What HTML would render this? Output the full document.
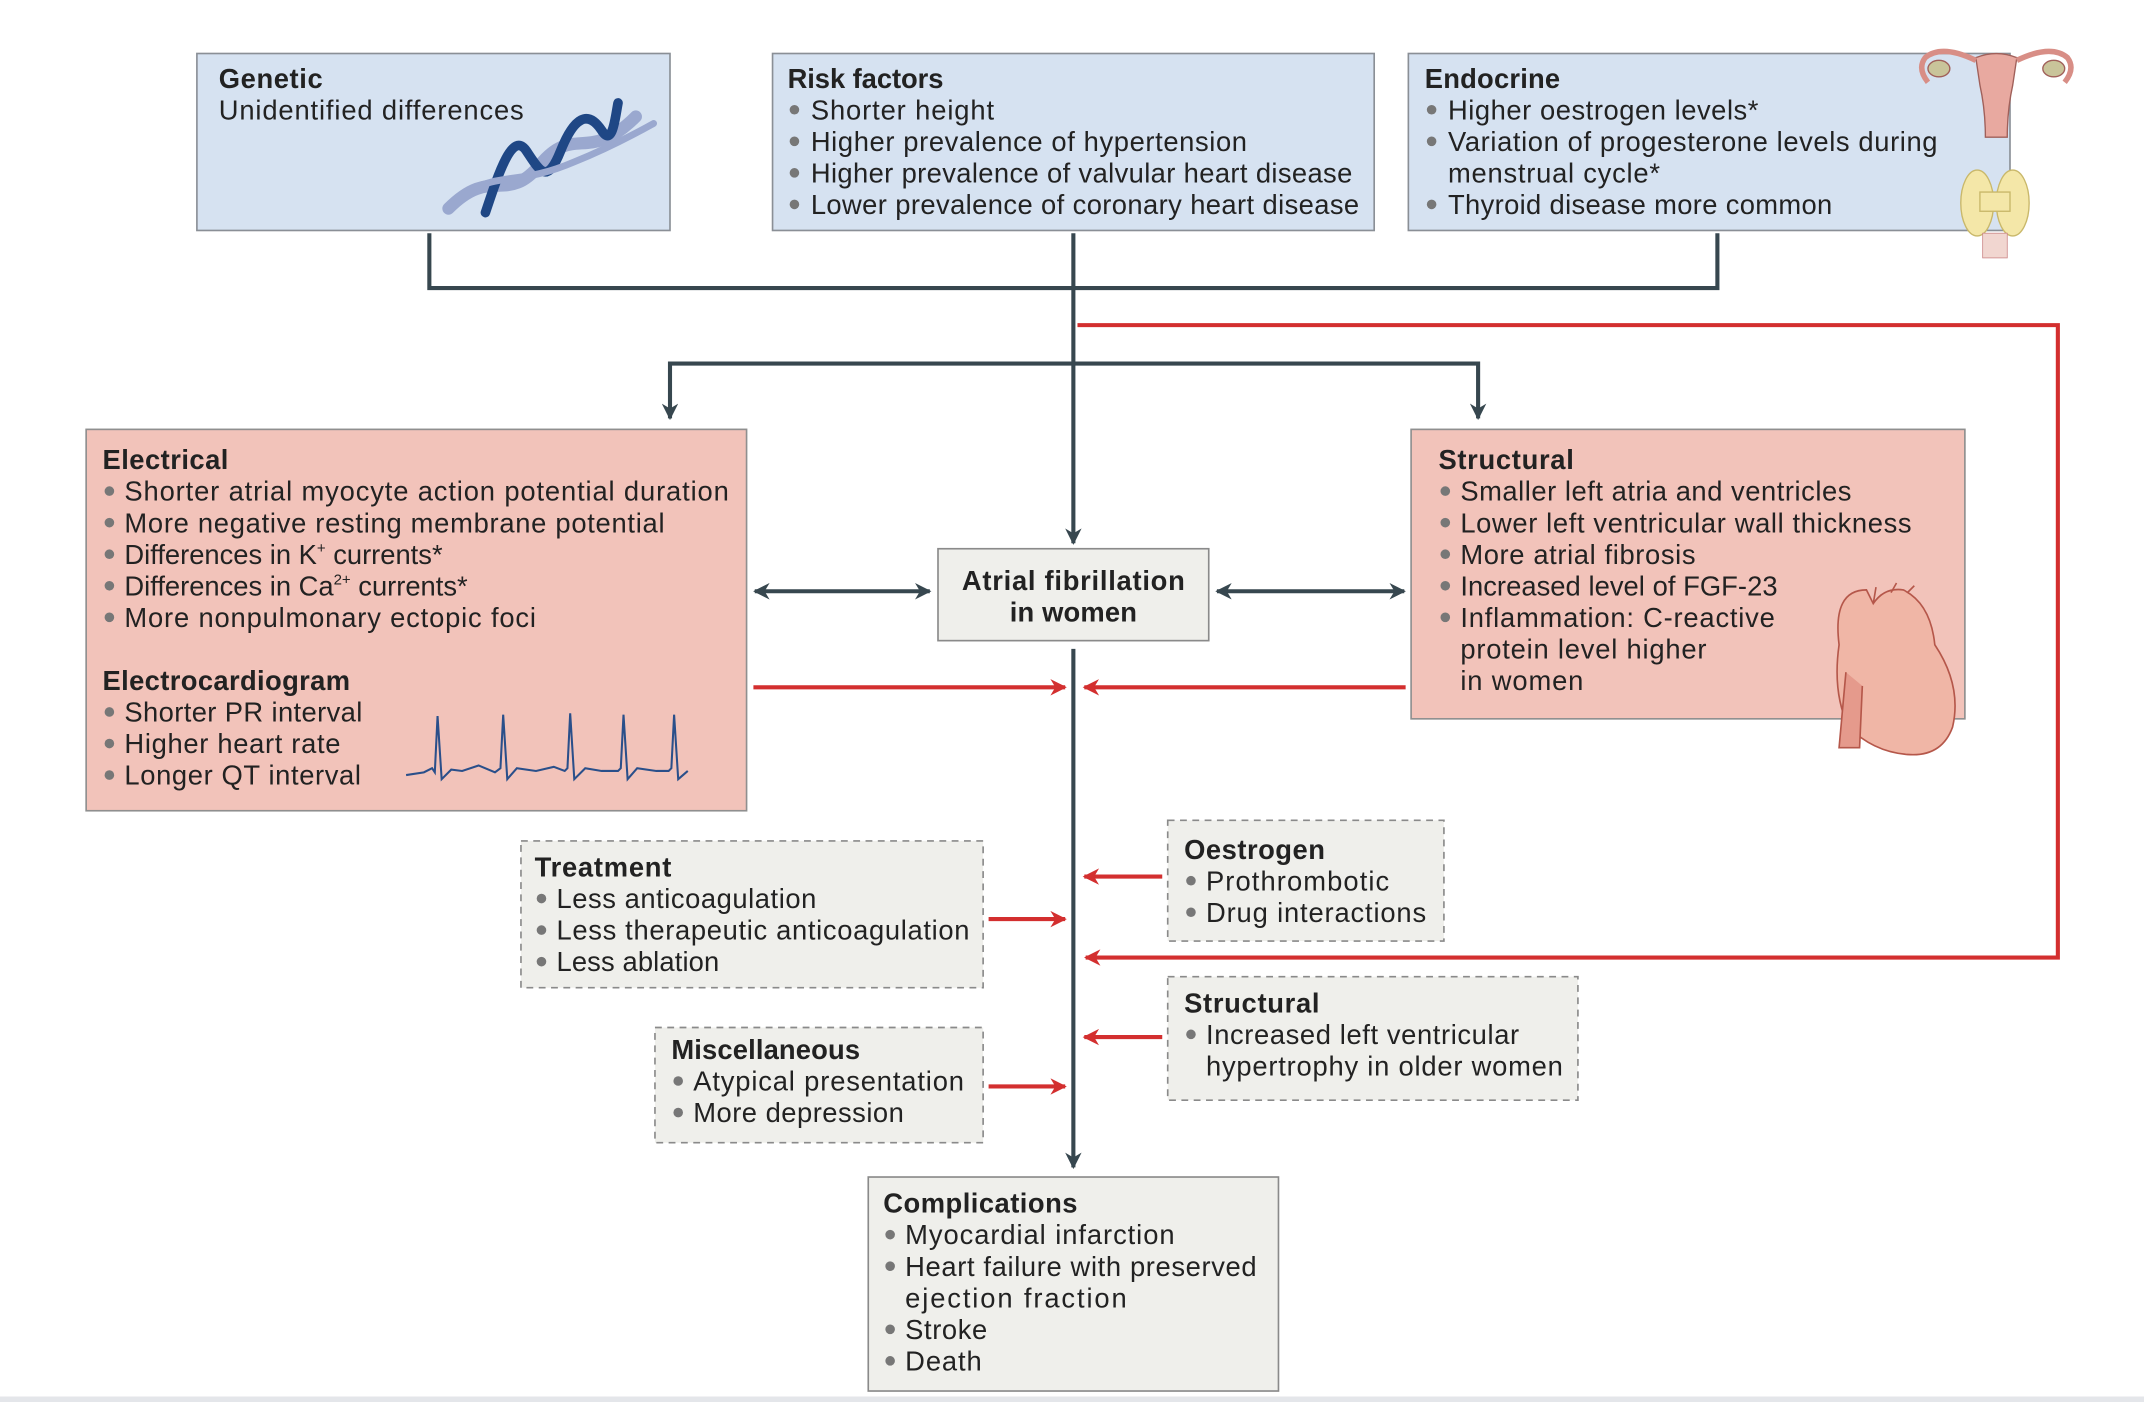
<!DOCTYPE html>
<html><head><meta charset="utf-8"><style>
html,body{margin:0;padding:0;background:#fff;}
svg{display:block;}
text{font-family:"Liberation Sans",sans-serif;fill:#222;font-size:20px;}
.b{font-weight:bold;}
.dot{fill:#777;}
</style></head><body>
<svg width="2144" height="1402" viewBox="0 0 1568 1022" preserveAspectRatio="none" xmlns="http://www.w3.org/2000/svg">
<defs>
<marker id="ad" viewBox="0 0 10 10" refX="9" refY="5" markerWidth="4" markerHeight="4" orient="auto-start-reverse" markerUnits="strokeWidth"><path d="M0,0 L10,5 L0,10 L3,5 z" fill="#37474f"/></marker>
<marker id="ar" viewBox="0 0 10 10" refX="9" refY="5" markerWidth="4" markerHeight="4" orient="auto-start-reverse" markerUnits="strokeWidth"><path d="M0,0 L10,5 L0,10 L3,5 z" fill="#d32f2f"/></marker>
</defs>
<rect x="0" y="1018" width="1568" height="4" fill="#e4e6ea"/>

<!-- connectors dark -->
<g stroke="#37474f" stroke-width="3" fill="none">
<polyline points="314,170 314,210 1256,210 1256,170"/>
<line x1="785" y1="170" x2="785" y2="396" marker-end="url(#ad)"/>
<polyline points="490,305 490,265 1081,265 1081,305" marker-start="url(#ad)" marker-end="url(#ad)"/>
<line x1="552" y1="431" x2="680" y2="431" marker-start="url(#ad)" marker-end="url(#ad)"/>
<line x1="890" y1="431" x2="1027" y2="431" marker-start="url(#ad)" marker-end="url(#ad)"/>
<line x1="785" y1="473" x2="785" y2="851" marker-end="url(#ad)"/>
</g>
<!-- red connectors -->
<g stroke="#d32f2f" stroke-width="3" fill="none">
<polyline points="788,237 1505,237 1505,698 794,698" marker-end="url(#ar)"/>
<line x1="551" y1="501" x2="779" y2="501" marker-end="url(#ar)"/>
<line x1="1028" y1="501" x2="793" y2="501" marker-end="url(#ar)"/>
<line x1="723" y1="670" x2="779" y2="670" marker-end="url(#ar)"/>
<line x1="723" y1="792" x2="779" y2="792" marker-end="url(#ar)"/>
<line x1="850" y1="639" x2="793" y2="639" marker-end="url(#ar)"/>
<line x1="850" y1="756" x2="793" y2="756" marker-end="url(#ar)"/>
</g>

<!-- Genetic -->
<rect x="144" y="39" width="346" height="129" fill="#d6e2f1" stroke="#8a8f96" stroke-width="1.2"/>
<text x="160" y="64" class="b" textLength="76">Genetic</text>
<text x="160" y="87" textLength="223">Unidentified differences</text>
<g fill="none" stroke-linecap="round">
<path d="M328,152 C360,120 370,150 395,120 C420,90 430,120 465,85" stroke="#9aa8cf" stroke-width="9"/>
<path d="M355,155 C365,125 375,95 385,110 C395,125 400,135 410,110 C420,85 430,80 440,95 C448,108 450,85 452,75" stroke="#1f4785" stroke-width="7"/>
<path d="M340,140 C370,125 380,135 420,118 C440,110 460,100 478,90" stroke="#9aa8cf" stroke-width="5"/>
</g>

<!-- Risk factors -->
<rect x="565" y="39" width="440" height="129" fill="#d6e2f1" stroke="#8a8f96" stroke-width="1.2"/>
<text x="576" y="64" class="b" textLength="114">Risk factors</text>
<g class="dot"><circle cx="581" cy="80" r="3.5"/><circle cx="581" cy="103" r="3.5"/><circle cx="581" cy="126" r="3.5"/><circle cx="581" cy="149" r="3.5"/></g>
<text x="593" y="87" textLength="134">Shorter height</text>
<text x="593" y="110" textLength="319">Higher prevalence of hypertension</text>
<text x="593" y="133" textLength="396">Higher prevalence of valvular heart disease</text>
<text x="593" y="156" textLength="401">Lower prevalence of coronary heart disease</text>

<!-- Endocrine -->
<rect x="1030" y="39" width="440" height="129" fill="#d6e2f1" stroke="#8a8f96" stroke-width="1.2"/>
<text x="1042" y="64" class="b" textLength="99">Endocrine</text>
<g class="dot"><circle cx="1047" cy="80" r="3.5"/><circle cx="1047" cy="103" r="3.5"/><circle cx="1047" cy="149" r="3.5"/></g>
<text x="1059" y="87" textLength="227">Higher oestrogen levels*</text>
<text x="1059" y="110" textLength="358">Variation of progesterone levels during</text>
<text x="1059" y="133" textLength="155">menstrual cycle*</text>
<text x="1059" y="156" textLength="281">Thyroid disease more common</text>
<!-- uterus -->
<g stroke="#a0605a" stroke-width="1">
<path d="M1445,42 Q1460,36 1475,42 L1472,62 Q1468,80 1468,100 L1452,100 Q1452,80 1448,62 Z" fill="#e8a9a0"/>
<path d="M1445,44 Q1420,32 1408,42 Q1402,50 1410,60 M1475,44 Q1500,32 1512,42 Q1518,50 1510,60" fill="none" stroke="#d88e86" stroke-width="4"/>
<ellipse cx="1418" cy="50" rx="8" ry="6" fill="#c9c49a"/>
<ellipse cx="1502" cy="50" rx="8" ry="6" fill="#c9c49a"/>
</g>
<g fill="#f4e7a8" stroke="#c9b86a" stroke-width="1">
<ellipse cx="1446" cy="148" rx="12" ry="24"/>
<ellipse cx="1472" cy="148" rx="12" ry="24"/>
<rect x="1448" y="140" width="22" height="14"/>
</g>
<rect x="1450" y="170" width="18" height="18" fill="#f1d6d0" stroke="#c88" stroke-width="0.6"/>

<!-- Electrical -->
<rect x="63" y="313" width="483" height="278" fill="#f2c3ba" stroke="#8f8f8f" stroke-width="1.2"/>
<text x="75" y="342" class="b" textLength="92">Electrical</text>
<g class="dot"><circle cx="80" cy="358" r="3.5"/><circle cx="80" cy="381" r="3.5"/><circle cx="80" cy="404" r="3.5"/><circle cx="80" cy="427" r="3.5"/><circle cx="80" cy="450" r="3.5"/><circle cx="80" cy="519" r="3.5"/><circle cx="80" cy="542" r="3.5"/><circle cx="80" cy="565" r="3.5"/></g>
<text x="91" y="365" textLength="442">Shorter atrial myocyte action potential duration</text>
<text x="91" y="388" textLength="395">More negative resting membrane potential</text>
<text x="91" y="411">Differences in K<tspan font-size="11" dy="-8">+</tspan><tspan dy="8"> currents*</tspan></text>
<text x="91" y="434">Differences in Ca<tspan font-size="11" dy="-8">2+</tspan><tspan dy="8"> currents*</tspan></text>
<text x="91" y="457" textLength="301">More nonpulmonary ectopic foci</text>
<text x="75" y="503" class="b" textLength="181">Electrocardiogram</text>
<text x="91" y="526" textLength="174">Shorter PR interval</text>
<text x="91" y="549" textLength="158">Higher heart rate</text>
<text x="91" y="572" textLength="173">Longer QT interval</text>
<polyline fill="none" stroke="#2a4f8a" stroke-width="1.5" points="297,565 310,563 316,560 318,563 320,522 323,568 330,561 338,562 350,558 362,563 366,560 368,521 371,568 378,560 392,562 405,559 413,562 415,560 417,520 420,568 428,560 440,562 452,562 454,560 456,521 459,568 466,560 480,562 489,562 491,560 493,521 496,568 503,562"/>

<!-- AF -->
<rect x="686" y="400" width="198" height="67" fill="#efefeb" stroke="#8a8a8a" stroke-width="1.2"/>
<text x="785" y="430" class="b" text-anchor="middle" textLength="163">Atrial fibrillation</text>
<text x="785" y="453" class="b" text-anchor="middle" textLength="93">in women</text>

<!-- Structural -->
<rect x="1032" y="313" width="405" height="211" fill="#f2c3ba" stroke="#8f8f8f" stroke-width="1.2"/>
<text x="1052" y="342" class="b" textLength="99">Structural</text>
<g class="dot"><circle cx="1057" cy="358" r="3.5"/><circle cx="1057" cy="381" r="3.5"/><circle cx="1057" cy="404" r="3.5"/><circle cx="1057" cy="427" r="3.5"/><circle cx="1057" cy="450" r="3.5"/></g>
<text x="1068" y="365" textLength="286">Smaller left atria and ventricles</text>
<text x="1068" y="388" textLength="330">Lower left ventricular wall thickness</text>
<text x="1068" y="411" textLength="172">More atrial fibrosis</text>
<text x="1068" y="434" textLength="232">Increased level of FGF-23</text>
<text x="1068" y="457" textLength="230">Inflammation: C-reactive</text>
<text x="1068" y="480" textLength="180">protein level higher</text>
<text x="1068" y="503" textLength="90">in women</text>
<g stroke="#b5574a" stroke-width="1.2">
<path d="M1345,470 Q1340,430 1365,430 L1370,440 Q1378,428 1392,430 Q1412,440 1415,470 Q1435,500 1428,530 Q1420,552 1395,550 Q1370,548 1352,530 Q1340,505 1345,470 Z" fill="#f0b6a6"/>
<path d="M1370,440 L1372,428 M1383,432 L1387,425 M1395,432 L1400,427" fill="none"/>
<path d="M1350,490 L1345,545 L1360,545 L1362,500" fill="#e59a8c"/>
</g>

<!-- Treatment -->
<rect x="381" y="613" width="338" height="107" fill="#efefeb" stroke="#8a8a8a" stroke-width="1.2" stroke-dasharray="5,4"/>
<text x="391" y="639" class="b" textLength="100">Treatment</text>
<g class="dot"><circle cx="396" cy="655" r="3.5"/><circle cx="396" cy="678" r="3.5"/><circle cx="396" cy="701" r="3.5"/></g>
<text x="407" y="662" textLength="190">Less anticoagulation</text>
<text x="407" y="685" textLength="302">Less therapeutic anticoagulation</text>
<text x="407" y="708" textLength="119">Less ablation</text>

<!-- Miscellaneous -->
<rect x="479" y="749" width="240" height="84" fill="#efefeb" stroke="#8a8a8a" stroke-width="1.2" stroke-dasharray="5,4"/>
<text x="491" y="772" class="b" textLength="138">Miscellaneous</text>
<g class="dot"><circle cx="496" cy="788" r="3.5"/><circle cx="496" cy="811" r="3.5"/></g>
<text x="507" y="795" textLength="198">Atypical presentation</text>
<text x="507" y="818" textLength="154">More depression</text>

<!-- Oestrogen -->
<rect x="854" y="598" width="202" height="88" fill="#efefeb" stroke="#8a8a8a" stroke-width="1.2" stroke-dasharray="5,4"/>
<text x="866" y="626" class="b" textLength="103">Oestrogen</text>
<g class="dot"><circle cx="871" cy="642" r="3.5"/><circle cx="871" cy="665" r="3.5"/></g>
<text x="882" y="649" textLength="134">Prothrombotic</text>
<text x="882" y="672" textLength="161">Drug interactions</text>

<!-- Structural 2 -->
<rect x="854" y="712" width="300" height="90" fill="#efefeb" stroke="#8a8a8a" stroke-width="1.2" stroke-dasharray="5,4"/>
<text x="866" y="738" class="b" textLength="99">Structural</text>
<circle class="dot" cx="871" cy="754" r="3.5"/>
<text x="882" y="761" textLength="229">Increased left ventricular</text>
<text x="882" y="784" textLength="261">hypertrophy in older women</text>

<!-- Complications -->
<rect x="635" y="858" width="300" height="156" fill="#efefeb" stroke="#8a8a8a" stroke-width="1.2"/>
<text x="646" y="884" class="b" textLength="142">Complications</text>
<g class="dot"><circle cx="651" cy="900" r="3.5"/><circle cx="651" cy="923" r="3.5"/><circle cx="651" cy="969" r="3.5"/><circle cx="651" cy="992" r="3.5"/></g>
<text x="662" y="907" textLength="197">Myocardial infarction</text>
<text x="662" y="930" textLength="257">Heart failure with preserved</text>
<text x="662" y="953" textLength="162">ejection fraction</text>
<text x="662" y="976" textLength="60">Stroke</text>
<text x="662" y="999" textLength="56">Death</text>
</svg>
</body></html>
